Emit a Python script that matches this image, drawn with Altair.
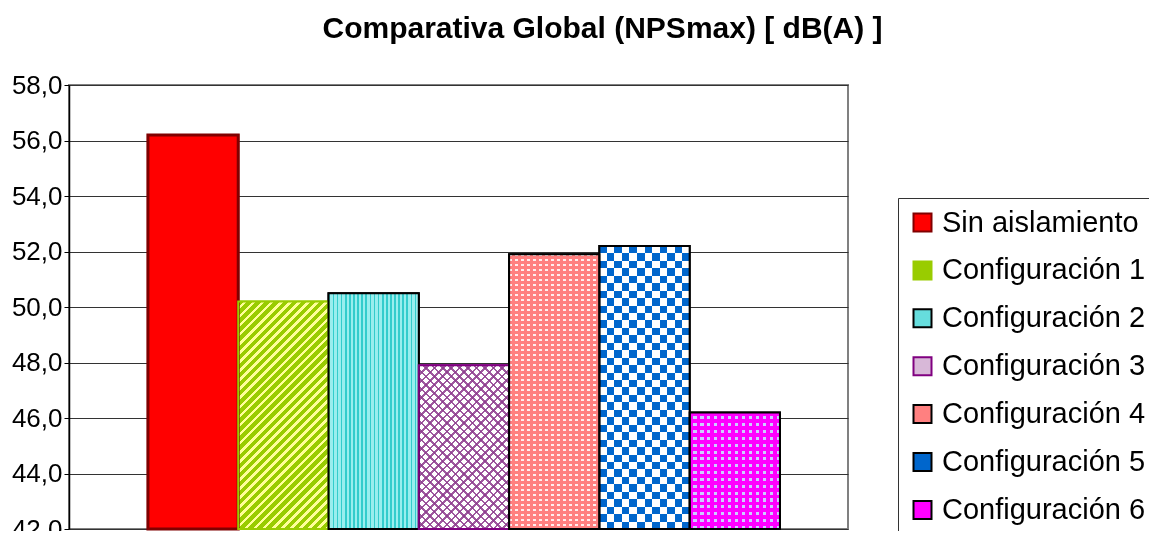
import math
import altair as alt
import pandas as pd

# ---------------- data ----------------
series = ["Sin aislamiento", "Configuración 1", "Configuración 2", "Configuración 3",
          "Configuración 4", "Configuración 5", "Configuración 6"]
values = [56.2, 50.2, 50.5, 47.9, 51.9, 52.2, 46.2]
y_ticks = [42, 44, 46, 48, 50, 52, 54, 56, 58]
title_text = "Comparativa Global (NPSmax) [ dB(A) ]"

fill_colors = ["#FF0000", "#99CC00", "#66DDDD", "#D8B8D8", "#FF8080", "#0066CC", "#FF00FF"]
stroke_colors = ["#800000", "#99CC00", "#000000", "#800080", "#000000", "#000000", "#000000"]

df = pd.DataFrame({"series": series, "value": values})

# ---------------- layout ----------------
W, H = 779, 444
Y0, Y1 = 42, 58
PAD_OUTER = 0.814
ALIGN = 0.537
FONT = "Liberation Sans, Arial, sans-serif"

bar_w = W / (len(series) + 2 * PAD_OUTER)


def bar_h(name):
    v = values[series.index(name)]
    return (v - Y0) / (Y1 - Y0) * H


def stripes(segments, n, x1=0, y1=0, x2=1, y2=0):
    """Hard-edged repeating stripes as a linear gradient."""
    stops = []
    for k in range(n):
        cum = 0.0
        for color, frac in segments:
            a = (k + cum) / n
            b = (k + cum + frac) / n
            stops.append({"offset": round(min(a, 1), 5), "color": color})
            stops.append({"offset": round(min(b, 1), 5), "color": color})
            cum += frac
    return {"gradient": "linear", "x1": x1, "y1": y1, "x2": x2, "y2": y2, "stops": stops}


def diag(segments, name, period, forward=True):
    h = bar_h(name)
    r = h / bar_w
    a = (1 + r) / (1 + r * r)
    n = round((bar_w + h) / math.sqrt(2) / period)
    if forward:   # stripes like "/"
        return stripes(segments, n, 0, 0, a, a * r)
    return stripes(segments, n, 1, 0, 1 - a, a * r)  # stripes like "\"


x_enc = alt.X("series:N", sort=series, axis=None,
              scale=alt.Scale(domain=series, paddingInner=0, paddingOuter=PAD_OUTER, align=ALIGN))
y_enc = alt.Y("value:Q",
              scale=alt.Scale(domain=[Y0, Y1], nice=False, zero=False),
              axis=alt.Axis(values=y_ticks, title=None,
                            labelExpr="replace(format(datum.value, '.1f'), '.', ',')",
                            labelFontSize=26, labelFont=FONT, labelColor="#000000",
                            labelPadding=2, tickSize=5, tickColor="#000000",
                            domainColor="#000000", domainWidth=1.5,
                            grid=True, gridColor="#333333", gridWidth=1))

base = alt.Chart(df).encode(x=x_enc, y=y_enc, y2=alt.datum(Y0))

color_scale_fill = alt.Scale(domain=series, range=fill_colors)
color_scale_stroke = alt.Scale(domain=series, range=stroke_colors)

main = base.mark_bar(strokeWidth=2).encode(
    fill=alt.Fill("series:N", sort=series, scale=color_scale_fill, title=None),
    stroke=alt.Stroke("series:N", sort=series, scale=color_scale_stroke, title=None),
)


def only(name):
    return alt.datum.series == name


layers = [main]

# Configuración 1: diagonal stripes "/"
g1 = diag([("#99CC00", 0.6), ("#FFFF99", 0.4)], "Configuración 1", 6.4)
layers.append(base.mark_bar(fill=g1, strokeWidth=0).transform_filter(only("Configuración 1")))

# Configuración 2: vertical stripes
g2 = stripes([("#33CCCC", 0.4), ("#99EEEE", 0.6)], 22)
layers.append(base.mark_bar(fill=g2, strokeWidth=0).transform_filter(only("Configuración 2")))

# Configuración 3: purple cross-hatch (herringbone look) on white
clear = "rgba(255,255,255,0)"
g3a = diag([("#8E3C8E", 0.3), (clear, 0.7)], "Configuración 3", 6.0, True)
g3b = diag([("#8E3C8E", 0.3), (clear, 0.7)], "Configuración 3", 6.0, False)
layers.append(base.mark_bar(fill="#FFFFFF", strokeWidth=0).transform_filter(only("Configuración 3")))
layers.append(base.mark_bar(fill=g3a, strokeWidth=0, opacity=0.85).transform_filter(only("Configuración 3")))
layers.append(base.mark_bar(fill=g3b, strokeWidth=0, opacity=0.85).transform_filter(only("Configuración 3")))

# Configuración 4: small pale dashes on salmon
h4 = bar_h("Configuración 4")
g4a = stripes([("#FFEEEE", 0.5), ("#FF8080", 0.5)], 15)
g4b = stripes([("rgba(255,128,128,0)", 0.35), ("#FF8080", 0.65)], round(h4 / 5.0), 0, 0, 0, 1)
layers.append(base.mark_bar(fill=g4a, strokeWidth=0).transform_filter(only("Configuración 4")))
layers.append(base.mark_bar(fill=g4b, strokeWidth=0).transform_filter(only("Configuración 4")))

# Configuración 5: blue / white checkerboard
h5 = bar_h("Configuración 5")
g5a = stripes([("#000000", 0.5), ("#FFFFFF", 0.5)], 6)
g5b = stripes([("#000000", 0.5), ("#FFFFFF", 0.5)], round(h5 / bar_w * 6), 0, 0, 0, 1)
layers.append(base.mark_bar(fill=g5a, strokeWidth=0).transform_filter(only("Configuración 5")))
layers.append(base.mark_bar(fill=g5b, strokeWidth=0, blend="difference").transform_filter(only("Configuración 5")))
layers.append(base.mark_bar(fill="#0066CC", strokeWidth=0, blend="lighten").transform_filter(only("Configuración 5")))

# Configuración 6: lavender dots on magenta
h6 = bar_h("Configuración 6")
g6a = stripes([("#FF00FF", 0.55), ("#CCCCFF", 0.45)], 13)
g6b = stripes([("#FF00FF", 0.55), ("rgba(255,0,255,0)", 0.45)], round(h6 / 6.8), 0, 0, 0, 1)
layers.append(base.mark_bar(fill=g6a, strokeWidth=0).transform_filter(only("Configuración 6")))
layers.append(base.mark_bar(fill=g6b, strokeWidth=0).transform_filter(only("Configuración 6")))

# outlines on top
outline = base.mark_bar(fillOpacity=0).encode(
    stroke=alt.Stroke("series:N", sort=series, scale=color_scale_stroke, title=None),
    strokeWidth=alt.condition(alt.datum.series == "Sin aislamiento", alt.value(3), alt.value(2)),
)
layers.append(outline)

chart = alt.layer(*layers).properties(
    width=W, height=H,
    title=alt.TitleParams(title_text, fontSize=30, font=FONT, fontWeight="bold",
                          color="#000000", anchor="middle", dx=144, offset=28),
    autosize=alt.AutoSizeParams(type="none"),
    padding={"left": 61, "top": 77, "right": 301, "bottom": 2},
).configure_view(
    stroke="#808080", strokeWidth=2
).configure_legend(
    orient="none", legendX=829, legendY=113,
    symbolType="square", symbolSize=324, symbolStrokeWidth=2,
    labelFontSize=29, labelFont=FONT, labelColor="#000000", labelOffset=5,
    rowPadding=17.9, padding=10, strokeColor="#333333",
    labelLimit=400,
)

chart.save("out.html", embed_options={"renderer": "svg", "actions": False})
